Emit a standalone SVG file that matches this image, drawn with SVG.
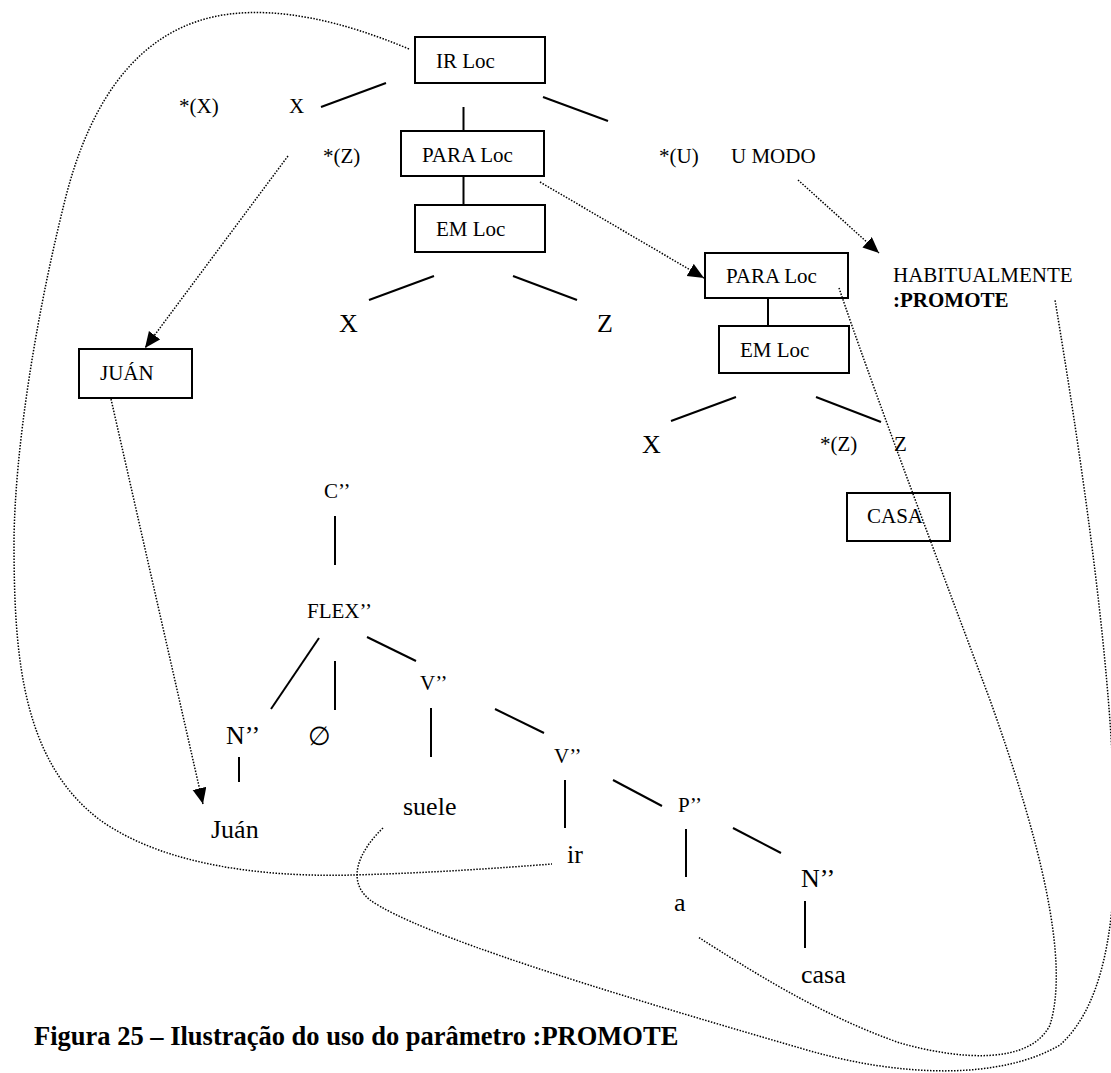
<svg xmlns="http://www.w3.org/2000/svg" width="1111" height="1073" viewBox="0 0 1111 1073">
<style>
text{font-family:"Liberation Serif","Times New Roman",serif;fill:#000}
.s{font-size:21px}
.l{font-size:26px}
.b{font-weight:bold}
.box{fill:none;stroke:#000;stroke-width:2}
.edge{stroke:#000;stroke-width:2;fill:none}
.dot{stroke:#000;stroke-width:1.5;stroke-dasharray:1.5 1.5;fill:none}
.arr{marker-end:url(#arrow)}
</style>
<defs>
<marker id="arrow" markerUnits="userSpaceOnUse" markerWidth="18" markerHeight="16" refX="16" refY="7" orient="auto"><path d="M0,0 L16,7 L0,14 Z" fill="#000"/></marker>
</defs>
<rect width="1111" height="1073" fill="#fff"/>

<!-- upper semantic structure -->
<g id="n-ir-loc"><rect class="box" x="415" y="37" width="130" height="46"/><text class="s" x="436" y="68">IR Loc</text></g>
<g id="n-ir-x-opt"><text class="s" x="179" y="113">*(X)</text></g>
<g id="n-ir-x"><text class="s" x="289" y="113">X</text></g>
<g id="n-ir-z-opt"><text class="s" x="323" y="163">*(Z)</text></g>
<g id="n-ir-u-opt"><text class="s" x="659" y="163">*(U)</text></g>
<g id="n-ir-u"><text class="s" x="731" y="163">U MODO</text></g>
<g id="n-para-loc-1"><rect class="box" x="401" y="131" width="143" height="45"/><text class="s" x="422" y="162">PARA Loc</text></g>
<g id="n-em-loc-1"><rect class="box" x="415" y="205" width="130" height="47"/><text class="s" x="436" y="236">EM Loc</text></g>
<g id="n-em1-x"><text class="l" x="339" y="332">X</text></g>
<g id="n-em1-z"><text class="l" x="597" y="332">Z</text></g>

<g id="n-para-loc-2"><rect class="box" x="705" y="253" width="143" height="45"/><text class="s" x="726" y="283">PARA Loc</text></g>
<g id="n-habitualmente"><text class="s" x="893" y="282">HABITUALMENTE</text><text class="s b" x="893" y="307">:PROMOTE</text></g>
<g id="n-em-loc-2"><rect class="box" x="719" y="326" width="130" height="47"/><text class="s" x="740" y="357">EM Loc</text></g>
<g id="n-em2-x"><text class="l" x="642" y="453">X</text></g>
<g id="n-em2-z-opt"><text class="s" x="820" y="451">*(Z)</text></g>
<g id="n-em2-z"><text class="s" x="894" y="451">Z</text></g>
<g id="n-casa-box"><rect class="box" x="847" y="493" width="103" height="48"/><text class="s" x="867" y="523">CASA</text></g>
<g id="n-juan-box"><rect class="box" x="79" y="349" width="113" height="49"/><text class="s" x="100" y="380">JUÁN</text></g>

<!-- syntactic tree -->
<g id="n-c"><text class="s" x="324" y="498">C&#8217;&#8217;</text></g>
<g id="n-flex"><text class="s" x="307" y="618">FLEX&#8217;&#8217;</text></g>
<g id="n-n1"><text class="l" x="226" y="744">N&#8217;&#8217;</text></g>
<g id="n-empty"><text class="l" x="308" y="745" style="font-family:'Liberation Serif','DejaVu Serif',serif">&#8709;</text></g>
<g id="n-v1"><text class="s" x="420" y="690">V&#8217;&#8217;</text></g>
<g id="n-juan"><text class="l" x="211" y="838">Juán</text></g>
<g id="n-suele"><text class="l" x="403" y="815">suele</text></g>
<g id="n-v2"><text class="s" x="554" y="763">V&#8217;&#8217;</text></g>
<g id="n-ir"><text class="l" x="567" y="863">ir</text></g>
<g id="n-p"><text class="s" x="678" y="812">P&#8217;&#8217;</text></g>
<g id="n-a"><text class="l" x="674" y="911">a</text></g>
<g id="n-n2"><text class="l" x="801" y="887">N&#8217;&#8217;</text></g>
<g id="n-casa"><text class="l" x="801" y="983">casa</text></g>

<g id="caption"><text class="b" x="34" y="1045" style="font-size:26.5px">Figura 25 – Ilustração do uso do parâmetro :PROMOTE</text></g>

<g id="connectors">
  <!-- tree branches -->
  <path class="edge" d="M386,83 L321,107"/>
  <path class="edge" d="M463.5,107 L463.5,132"/>
  <path class="edge" d="M543,97 L608,121"/>
  <path class="edge" d="M463.5,177 L463.5,205"/>
  <path class="edge" d="M434,276 L369,300"/>
  <path class="edge" d="M513,276 L577,300"/>
  <path class="edge" d="M768,299 L768,326"/>
  <path class="edge" d="M736,397 L671,421"/>
  <path class="edge" d="M816,397 L881,422"/>
  <path class="edge" d="M335,516 L335,565"/>
  <path class="edge" d="M319,638 L271,709"/>
  <path class="edge" d="M335,661 L335,710"/>
  <path class="edge" d="M367,637 L416,661"/>
  <path class="edge" d="M239,757 L239,782"/>
  <path class="edge" d="M431,708 L431,757"/>
  <path class="edge" d="M495,709 L544,733"/>
  <path class="edge" d="M565,780 L565,828"/>
  <path class="edge" d="M613,780 L662,806"/>
  <path class="edge" d="M686,829 L686,877"/>
  <path class="edge" d="M733,828 L781,853"/>
  <path class="edge" d="M805,901 L805,948"/>
  <!-- mapping arrows -->
  <path class="dot arr" d="M288,156 L145,348"/>
  <path class="dot arr" d="M111,399 L203,804"/>
  <path class="dot arr" d="M540,182 L704,278"/>
  <path class="dot arr" d="M798,180 L879,253"/>
  <!-- promotion loops -->
  <path class="dot" d="M409,49 C340,20 280,8 230,14 C140,25 90,100 65,200 C35,320 15,450 14,540 C14,650 20,760 100,820 C170,870 280,877 353,875 C430,873 500,868 552,864"/>
  <path class="dot" d="M383,828 C360,850 345,880 370,900 C420,935 600,990 800,1048 C900,1078 1000,1080 1060,1045 C1110,1000 1118,900 1114,800 C1110,650 1080,450 1055,300"/>
  <path class="dot" d="M839,288 C870,380 930,540 990,700 C1040,840 1070,960 1050,1025 C1030,1065 960,1060 900,1043 C820,1015 750,970 698,937"/>
</g>
</svg>
